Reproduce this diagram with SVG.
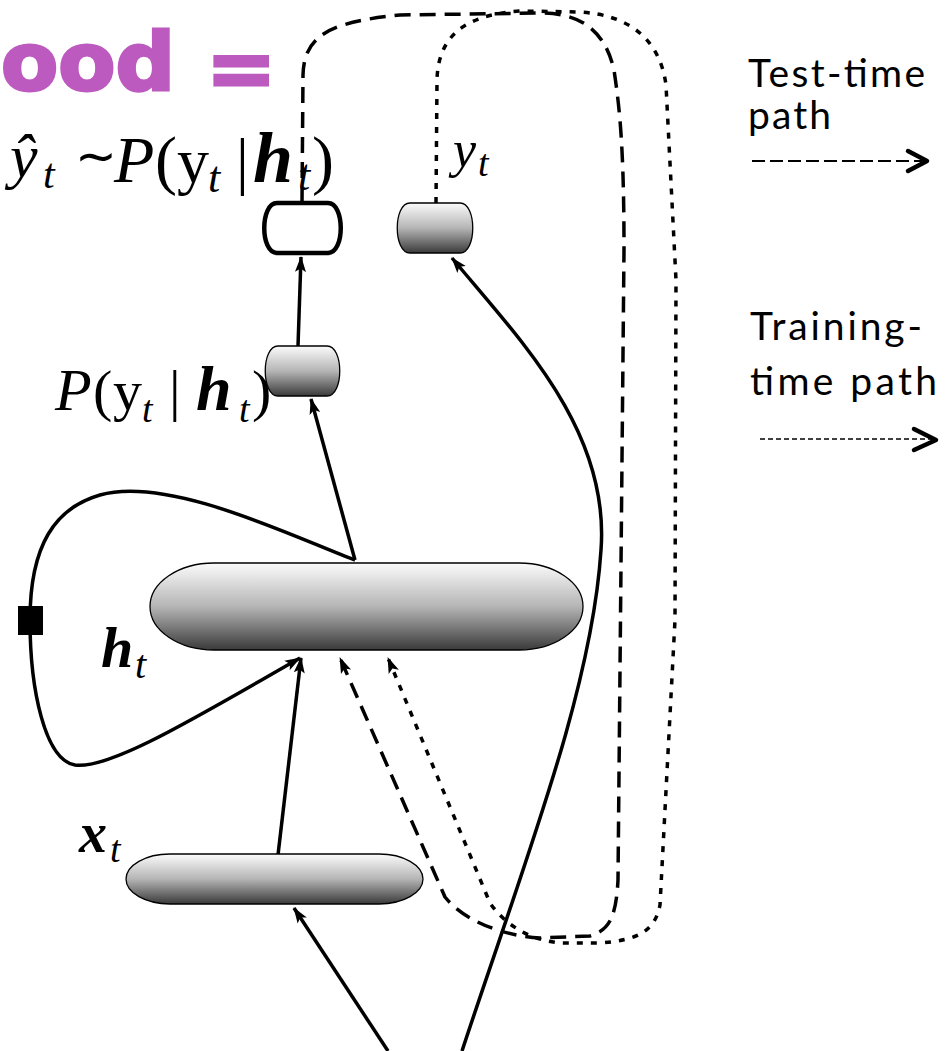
<svg xmlns="http://www.w3.org/2000/svg" width="945" height="1051" viewBox="0 0 945 1051">
<defs>
  <linearGradient id="g" x1="0" y1="0" x2="0" y2="1">
    <stop offset="0" stop-color="#fbfbfb"/>
    <stop offset="0.5" stop-color="#b5b5b5"/>
    <stop offset="1" stop-color="#3a3a3a"/>
  </linearGradient>
  <marker id="ah" markerUnits="userSpaceOnUse" markerWidth="18" markerHeight="14" refX="15" refY="7" orient="auto">
    <path d="M0,1.5 L16,7 L0,12.5 L3.5,7 Z" fill="#000"/>
  </marker>
</defs>
<style>
  .math{font-family:"Liberation Serif","DejaVu Serif",serif;fill:#000}
  .it{font-style:italic}
  .bi{font-style:italic;font-weight:bold}
  .up{font-style:normal;font-weight:normal}
  .side{font-family:"Lato","Open Sans",sans-serif;font-size:39px;fill:#000}
  .solid{fill:none;stroke:#000;stroke-width:3.5}
  .dash{fill:none;stroke:#000;stroke-width:3.5;stroke-dasharray:16 9}
  .dot{fill:none;stroke:#000;stroke-width:3.5;stroke-dasharray:6 8}
  .cyl{fill:url(#g);stroke:#000;stroke-width:1.3}
</style>
<rect width="945" height="1051" fill="#fff"/>

<g id="title">
  <text x="1" y="90" font-family="DejaVu Sans" font-weight="bold" font-size="80" fill="#BD5ABF" stroke="#BD5ABF" stroke-width="3" textLength="174" lengthAdjust="spacingAndGlyphs">ood</text>
  <text x="206" y="97" font-family="DejaVu Sans" font-weight="bold" font-size="84" fill="#BD5ABF" stroke="#BD5ABF" stroke-width="3">=</text>
</g>

<g id="connectors">
  <path class="solid" d="M388,1051 L294,908" marker-end="url(#ah)"/>
  <path class="solid" d="M462,1051 C525,860 592,690 601,550 C610,430 520,340 452,258" marker-end="url(#ah)"/>
  <path class="solid" d="M278,855 L301,658" marker-end="url(#ah)"/>
  <path class="solid" d="M355,560 C300,540 170,475 100,495 C55,508 30,545 30,620 C30,690 45,760 75,765 C110,770 200,715 300,658" marker-end="url(#ah)"/>
  <path class="solid" d="M355,560 L311,399" marker-end="url(#ah)"/>
  <path class="solid" d="M298,346 L301,257" marker-end="url(#ah)"/>
  <path class="dash" d="M302,203 L303,75 C304,35 330,22 400,15 L540,13 C580,13 605,30 614,70 C620,110 624,150 624,250 L618,880 C616,920 608,930 590,936 L540,938 C505,936 465,922 445,897 L340,658" marker-end="url(#ah)"/>
  <path class="dot" d="M436,203 L437,80 C438,40 460,15 520,11 L580,12 C630,15 660,40 666,85 L676,280 L675,620 L660,905 C655,930 640,940 600,943 L560,943 C530,940 505,925 490,903 L388,658" marker-end="url(#ah)"/>
  <rect x="18" y="606" width="25" height="29" fill="#000"/>
</g>

<g id="node-yhat">
  <path d="M277,203 H328 C345,203 345,253 328,253 H277 C260,253 260,203 277,203 Z" fill="#fff" stroke="#000" stroke-width="4.5"/>
  <text class="math up" font-size="64"><tspan class="it" x="10" y="177" font-size="62">ŷ</tspan><tspan class="it" x="43" y="188" font-size="42">t</tspan><tspan x="75" y="173" font-family="DejaVu Sans" font-size="50">∼</tspan><tspan class="it" x="114" y="182" font-size="66">P</tspan><tspan x="155" y="182" font-size="66">(</tspan><tspan x="177" y="182">y</tspan><tspan class="it" x="208" y="192" font-size="44">t</tspan><tspan x="236" y="182">|</tspan><tspan class="bi" x="253" y="182" font-size="72">h</tspan><tspan class="it" x="298" y="190" font-size="44">t</tspan><tspan x="312" y="182" font-size="66">)</tspan></text>
</g>

<g id="node-y">
  <path class="cyl" d="M410,203 H460 C477,203 477,253 460,253 H410 C393,253 393,203 410,203 Z"/>
  <text class="math it" font-size="52"><tspan x="453" y="167">y</tspan><tspan x="478" y="176" font-size="38">t</tspan></text>
</g>

<g id="node-p">
  <path class="cyl" d="M278,346 H327 C344,346 344,396 327,396 H278 C261,396 261,346 278,346 Z"/>
  <text class="math up" font-size="58"><tspan class="it" x="55" y="410" font-size="60">P</tspan><tspan x="93" y="410">(</tspan><tspan x="113" y="410">y</tspan><tspan class="it" x="142" y="422" font-size="38">t</tspan><tspan x="169" y="410">|</tspan><tspan class="bi" x="196" y="410" font-size="64">h</tspan><tspan class="it" x="239" y="422" font-size="38">t</tspan><tspan x="252" y="410">)</tspan></text>
</g>

<g id="node-h">
  <rect class="cyl" x="150" y="563" width="433" height="87" rx="64" ry="43.5"/>
  <text class="math bi" font-size="58"><tspan x="101" y="667">h</tspan><tspan class="it" x="135" y="678" font-size="40" font-weight="normal">t</tspan></text>
</g>

<g id="node-x">
  <rect class="cyl" x="126" y="854" width="297" height="50" rx="44" ry="25"/>
  <text class="math bi" font-size="56"><tspan x="79" y="852">x</tspan><tspan x="110" y="862" font-size="38" font-weight="normal">t</tspan></text>
</g>

<g id="legend">
  <text class="side" x="748" y="87" textLength="177">Test-time</text>
  <text class="side" x="748" y="129" textLength="83">path</text>
  <line x1="752" y1="161" x2="922" y2="161" stroke="#000" stroke-width="2" stroke-dasharray="13 5"/>
  <path d="M908,151 L927,161 L908,171" fill="none" stroke="#000" stroke-width="4.5" stroke-linecap="round" stroke-linejoin="round"/>
  <text class="side" x="750" y="340" textLength="172">Training-</text>
  <text class="side" x="750" y="395" textLength="187">time path</text>
  <line x1="760" y1="439" x2="932" y2="439" stroke="#000" stroke-width="1.6" stroke-dasharray="5 3"/>
  <path d="M914,429 L936,440 L914,450" fill="none" stroke="#000" stroke-width="4.5" stroke-linecap="round" stroke-linejoin="round"/>
</g>
</svg>
